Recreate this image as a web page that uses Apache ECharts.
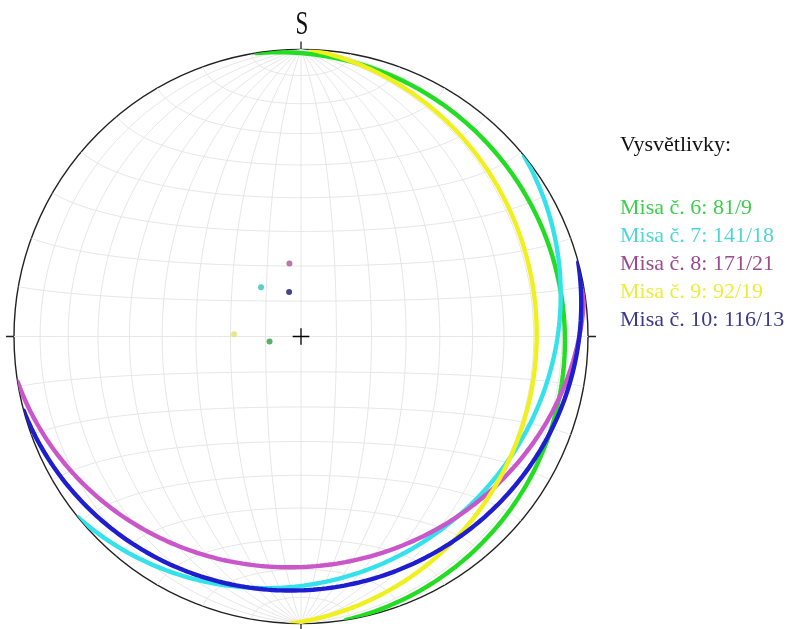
<!DOCTYPE html>
<html>
<head>
<meta charset="utf-8">
<script src="https://cdn.jsdelivr.net/npm/echarts@6/dist/echarts.min.js"></script>
<style>
  html, body { margin: 0; padding: 0; background: #ffffff; }
  #chart { width: 800px; height: 629px; }
</style>
</head>
<body>
<div id="chart"></div>
<script>
// ---- Data ----
const northLabel = 'S';
const legendTitle = 'Vysvětlivky:';
const planeLabels = ['Misa č. 6: 81/9', 'Misa č. 7: 141/18', 'Misa č. 8: 171/21', 'Misa č. 9: 92/19', 'Misa č. 10: 116/13'];
// dip direction / dip of each plotted plane (as drawn in the net)
const dipDirections = [81, 141, 171, 92, 165];
const dips = [9, 18, 21, 19, 13];
const circleColors = ['#22dd22', '#33e2ea', '#c957c9', '#f0f01e', '#1e1ed0'];
const poleColors = ['#2f9e3c', '#2ec6b6', '#a85896', '#e2e26a', '#16166e'];
const legendColors = ['#3ccf4c', '#4ed6d6', '#9c4a8c', '#ecec3a', '#3a3a8c'];
// Schmidt net graticule spacing (degrees)
const gridAngles = [10, 20, 30, 40, 50, 60, 70, 80];

// ---- Equal-area (Schmidt) lower-hemisphere projection helpers ----
const D2R = Math.PI / 180;
function project(trend, plunge) {
  // returns [radius (1 = primitive), angle (trend in degrees)]
  const r = Math.SQRT2 * Math.sin((90 - plunge) / 2 * D2R);
  return [r, ((trend % 360) + 360) % 360];
}
function vecToTP(n, e, d) {
  const len = Math.sqrt(n * n + e * e + d * d);
  n /= len; e /= len; d /= len;
  if (d < 0) { n = -n; e = -e; d = -d; }
  const plunge = Math.asin(Math.min(1, d)) / D2R;
  const trend = Math.atan2(e, n) / D2R;
  return [trend, plunge];
}
function greatCircle(dd, dip) {
  const s = (dd - 90) * D2R, a = dd * D2R, b = dip * D2R;
  const S = [Math.cos(s), Math.sin(s), 0];
  const Dv = [Math.cos(b) * Math.cos(a), Math.cos(b) * Math.sin(a), Math.sin(b)];
  const pts = [];
  for (let t = 0; t <= 180; t += 1) {
    const c = Math.cos(t * D2R), sn = Math.sin(t * D2R);
    const tp = vecToTP(c * S[0] + sn * Dv[0], c * S[1] + sn * Dv[1], c * S[2] + sn * Dv[2]);
    pts.push(project(tp[0], tp[1]));
  }
  return pts;
}
function smallCircleN(alpha) {
  // cone of half-angle alpha around the horizontal N axis (lower hemisphere part)
  const ca = Math.cos(alpha * D2R), sa = Math.sin(alpha * D2R);
  const pts = [];
  for (let f = 0; f <= 180; f += 1) {
    const n = ca, e = sa * Math.cos(f * D2R), d = sa * Math.sin(f * D2R);
    const len = Math.sqrt(n * n + e * e + d * d);
    const plunge = Math.asin(Math.min(1, d / len)) / D2R;
    const trend = Math.atan2(e, n) / D2R;
    pts.push(project(trend, plunge));
  }
  return pts;
}

const gridStyle = { color: '#e6e6e6', width: 1 };
const series = [];
function addGrid(data) {
  series.push({
    type: 'line', coordinateSystem: 'polar', data: data, showSymbol: false,
    silent: true, animation: false, lineStyle: gridStyle, z: 1
  });
}
// meridians (great circles striking N-S)
gridAngles.forEach(function (g) {
  addGrid(greatCircle(90, g));
  addGrid(greatCircle(270, g));
});
addGrid(greatCircle(90, 90));
// small circles around N-S axis
gridAngles.forEach(function (g) {
  addGrid(smallCircleN(g));
  addGrid(smallCircleN(180 - g));
});
addGrid(smallCircleN(90));

// centre cross
const crossR = 0.029;
[[0, 180], [90, 270]].forEach(function (pair) {
  series.push({
    type: 'line', coordinateSystem: 'polar', showSymbol: false, silent: true, animation: false,
    data: [[crossR, pair[0]], [crossR, pair[1]]],
    lineStyle: { color: '#000', width: 1.3 }, z: 3
  });
});

// planes: great circles and poles
planeLabels.forEach(function (name, i) {
  series.push({
    name: name, type: 'line', coordinateSystem: 'polar', showSymbol: false, animation: false,
    data: greatCircle(dipDirections[i], dips[i]),
    lineStyle: { color: circleColors[i], width: 4.4, cap: 'round' },
    itemStyle: { color: circleColors[i] }, z: 4 + i
  });
  series.push({
    name: name, type: 'scatter', coordinateSystem: 'polar', animation: false,
    data: [project(dipDirections[i] + 180, 90 - dips[i])],
    symbolSize: 6, itemStyle: { color: poleColors[i] }, z: 10
  });
});

const chart = echarts.init(document.getElementById('chart'), null, { renderer: 'canvas' });
chart.setOption({
  backgroundColor: '#ffffff',
  animation: false,
  polar: { center: [301, 336.5], radius: 287 },
  angleAxis: {
    type: 'value', min: 0, max: 360, interval: 90, startAngle: 90, clockwise: true,
    axisLine: { show: true, lineStyle: { color: '#222', width: 1.4 } },
    axisTick: { show: true, length: 8, lineStyle: { color: '#222', width: 1.3 } },
    axisLabel: { show: false },
    splitLine: { show: false }
  },
  radiusAxis: {
    type: 'value', min: 0, max: 1,
    axisLine: { show: false }, axisTick: { show: false }, axisLabel: { show: false },
    splitLine: { show: false }
  },
  legend: {
    orient: 'vertical', left: 610, top: 192, itemWidth: 0, itemHeight: 0, itemGap: 6,
    selectedMode: false,
    data: planeLabels.map(function (n, i) {
      return { name: n, icon: 'rect', textStyle: { color: legendColors[i] } };
    }),
    textStyle: { fontFamily: 'Liberation Serif', fontSize: 22, lineHeight: 22 }
  },
  graphic: [
    {
      type: 'text', x: 302, y: 25, scaleX: 0.68,
      style: { text: northLabel, font: '34px "Liberation Serif"', fill: '#111', align: 'center', verticalAlign: 'middle' }
    },
    {
      type: 'text', x: 620, y: 145,
      style: { text: legendTitle, font: '22px "Liberation Serif"', fill: '#111', align: 'left', verticalAlign: 'middle' }
    }
  ],
  series: series
});
</script>
</body>
</html>
